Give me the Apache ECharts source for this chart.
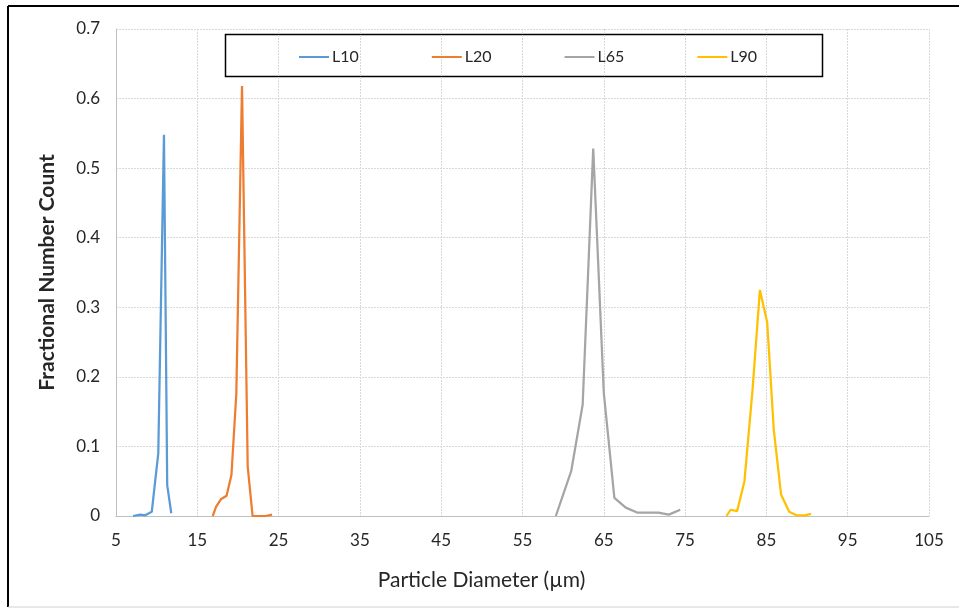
<!DOCTYPE html>
<html>
<head>
<meta charset="utf-8">
<script src="https://cdn.jsdelivr.net/npm/echarts@6/dist/echarts.min.js"></script>
<style>
  html, body { margin: 0; padding: 0; background: #fff; }
  #main { width: 959px; height: 609px; }
</style>
</head>
<body>
<div id="main"></div>
<script>
let myChart = echarts.init(document.getElementById('main'));

// data: [diameter, fraction]
let seriesNames = ['L10', 'L20', 'L65', 'L90'];
let seriesColors = ['#5B9BD5', '#ED7D31', '#A5A5A5', '#FFC000'];

let l10 = [
    [7.1, 0], [8.0, 0.002], [8.6, 0.001], [9.4, 0.006], [10.2, 0.09],
    [10.9, 0.548], [11.3, 0.044], [11.8, 0.004]
];
let l20 = [
    [16.9, 0], [17.3, 0.013], [17.9, 0.024], [18.6, 0.029], [19.2, 0.059],
    [19.8, 0.176], [20.5, 0.618], [21.2, 0.071], [21.8, 0], [22.6, 0],
    [23.4, 0], [24.2, 0.002]
];
let l65 = [
    [59.1, 0], [61.0, 0.065], [62.4, 0.16], [63.7, 0.528], [65.0, 0.177],
    [66.3, 0.026], [67.7, 0.012], [69.1, 0.005], [70.4, 0.005], [71.7, 0.005],
    [73.0, 0.002], [74.4, 0.009]
];
let l90 = [
    [80.1, 0], [80.6, 0.009], [81.4, 0.007], [82.3, 0.05], [83.3, 0.182],
    [84.2, 0.325], [85.1, 0.278], [85.9, 0.125], [86.8, 0.031], [87.8, 0.006],
    [88.7, 0.001], [89.7, 0.001], [90.5, 0.003]
];
let allData = [l10, l20, l65, l90];

let xMin = 5, xMax = 105, xStep = 10;
let yMin = 0, yMax = 0.7, yStep = 0.1;

let font = 'Lato, "Open Sans", sans-serif';

let option = {
    animation: false,
    graphic: [
        { type: 'line', shape: { x1: 8, y1: 6, x2: 8, y2: 607 }, style: { stroke: '#000', lineWidth: 2 } },
        { type: 'line', shape: { x1: 8, y1: 6, x2: 959, y2: 6 }, style: { stroke: '#000', lineWidth: 2 } },
        { type: 'line', shape: { x1: 8, y1: 607, x2: 959, y2: 607 }, style: { stroke: '#d0d0d0', lineWidth: 1 } },
        { type: 'rect', shape: { x: 225.5, y: 34.5, width: 597, height: 42 }, style: { fill: '#fff', stroke: '#000', lineWidth: 1.5 }, z: 0 }
    ],
    legend: {
        top: 44,
        left: 294,
        itemGap: 73,
        itemWidth: 30,
        itemHeight: 10,
        icon: 'path://M0,4L30,4L30,6L0,6Z',
        textStyle: { fontFamily: font, fontSize: 16, color: '#262626', padding: [0, 0, 0, -2] },
        data: seriesNames,
        z: 10
    },
    grid: { left: 116, right: 30, top: 29, bottom: 93 },
    xAxis: {
        type: 'value',
        min: xMin,
        max: xMax,
        interval: xStep,
        name: 'Particle Diameter (µm)',
        nameLocation: 'middle',
        nameGap: 54,
        nameTextStyle: { fontFamily: font, fontSize: 21, color: '#262626', padding: [0, 82, 0, 0] },
        axisLine: { show: true, lineStyle: { color: '#bfbfbf', width: 1 } },
        axisTick: { show: false },
        axisLabel: { fontFamily: font, fontSize: 17, color: '#262626', margin: 16 },
        splitLine: { show: true, lineStyle: { color: '#d9d9d9', type: [2, 1] } }
    },
    yAxis: {
        type: 'value',
        min: yMin,
        max: yMax,
        interval: yStep,
        name: 'Fractional Number Count',
        nameLocation: 'middle',
        nameGap: 58,
        nameTextStyle: { fontFamily: font, fontSize: 21, fontWeight: 'bold', color: '#262626' },
        axisLine: { show: true, lineStyle: { color: '#bfbfbf', width: 1 } },
        axisTick: { show: false },
        axisLabel: { fontFamily: font, fontSize: 17, color: '#262626', margin: 16 },
        splitLine: { show: true, lineStyle: { color: '#d9d9d9', type: [2, 1] } }
    },
    series: seriesNames.map((name, i) => ({
        name: name,
        type: 'line',
        data: allData[i],
        symbol: 'none',
        color: seriesColors[i],
        lineStyle: { width: 2.25, color: seriesColors[i] },
        z: 3
    }))
};

myChart.setOption(option);
</script>
</body>
</html>
